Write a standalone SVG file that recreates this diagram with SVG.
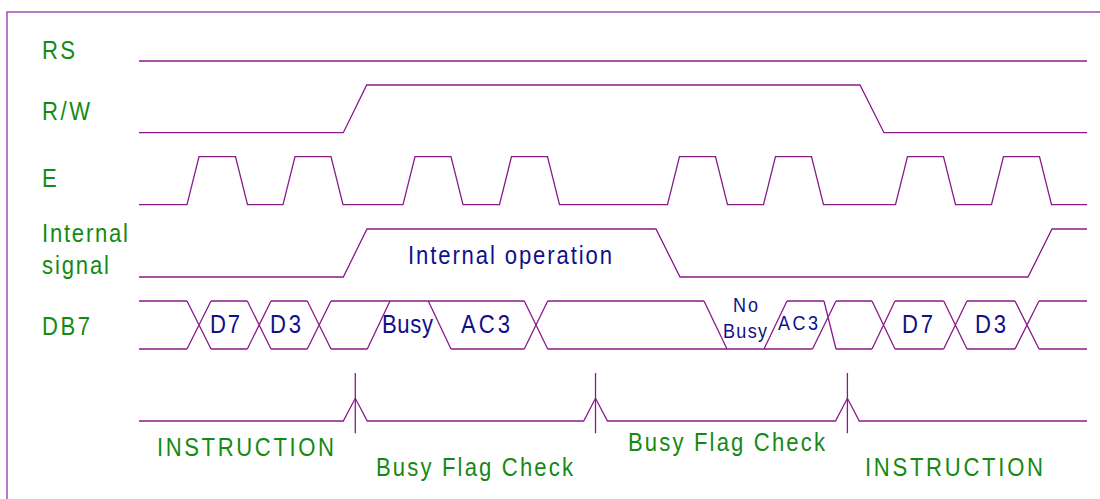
<svg xmlns="http://www.w3.org/2000/svg" width="1100" height="499" viewBox="0 0 1100 499">
  <style>
    .sig { fill: none; stroke: #8a1a8a; stroke-width: 1.3; stroke-linejoin: miter; }
    .frame { fill: none; stroke: #a858b8; stroke-width: 1.6; }
    .lbl { font-family: "Liberation Sans", Arial, sans-serif; font-size: 26px; fill: #148a14; }
    .dat { font-family: "Liberation Sans", Arial, sans-serif; font-size: 26px; fill: #10108a; }
    .dats { font-family: "Liberation Sans", Arial, sans-serif; font-size: 20px; fill: #10108a; }
  </style>
  <rect x="0" y="0" width="1100" height="499" fill="#ffffff"/>
  <rect class="frame" x="7" y="12" width="1110" height="510"/>

  <g id="labels">
    <text class="lbl" transform="translate(42,59) scale(0.85,1)" textLength="38.8">RS</text>
    <text class="lbl" transform="translate(42,120) scale(0.85,1)" textLength="56.5">R/W</text>
    <text class="lbl" transform="translate(42,187) scale(0.85,1)">E</text>
    <text class="lbl" transform="translate(42,242) scale(0.85,1)" textLength="101.2">Internal</text>
    <text class="lbl" transform="translate(42,274) scale(0.85,1)" textLength="78.8">signal</text>
    <text class="lbl" transform="translate(42,335) scale(0.85,1)" textLength="56.5">DB7</text>
  </g>

  <g id="rs">
    <path class="sig" d="M139,61 H1087"/>
  </g>

  <g id="rw">
    <path class="sig" d="M139,132.7 H343.3 L366.7,85 H860 L884,132.7 H1087"/>
  </g>

  <g id="e">
    <path class="sig" d="M139,204.7 H187 L199,156.7 H235.5 L247.5,204.7 H283 L295,156.7 H331 L343,204.7 H403 L415,156.7 H451 L463,204.7 H499.5 L511.5,156.7 H547.5 L559.5,204.7 H667.5 L679.5,156.7 H715.5 L727.5,204.7 H763.5 L775.5,156.7 H811.5 L823.5,204.7 H895.5 L907.5,156.7 H943.5 L955.5,204.7 H991.5 L1003.5,156.7 H1039.5 L1051.5,204.7 H1087"/>
  </g>

  <g id="internal">
    <path class="sig" d="M139,277 H343.3 L367,229 H656 L680,277 H1028 L1052,229 H1087"/>
    <text class="dat" transform="translate(408,264) scale(0.85,1)" textLength="240">Internal operation</text>
  </g>

  <g id="db7">
    <path class="sig" d="M139,301 H187 M211,301 H247.3 M271,301 H307.3 M331,301 H524.3 M547.7,301 H704 M787,301 H824 M836,301 H872 M895,301 H943.7 M967,301 H1015 M1039,301 H1087"/>
    <path class="sig" d="M139,349 H187 M211,349 H247.3 M271,349 H307.3 M331,349 H367.3 M451,349 H524.3 M547.7,349 H812.5 M836,349 H872 M895,349 H943.7 M967,349 H1015 M1039,349 H1087"/>
    <path class="sig" d="M187,301 L211,349 M187,349 L211,301 M247.3,301 L271,349 M247.3,349 L271,301 M307.3,301 L331,349 M307.3,349 L331,301 M367.3,349 L390,301 M428.3,301 L451,349 M524.3,301 L547.7,349 M524.3,349 L547.7,301 M704,301 L727,349 M764,349 L787,301 M824,301 L836,349 M812.5,349 L836,301 M872,301 L895,349 M872,349 L895,301 M943.7,301 L967,349 M943.7,349 L967,301 M1015,301 L1039,349 M1015,349 L1039,301"/>
    <text class="dat" transform="translate(210,333) scale(0.85,1)" textLength="35.3">D7</text>
    <text class="dat" transform="translate(270,333) scale(0.85,1)" textLength="36.5">D3</text>
    <text class="dat" transform="translate(382,333) scale(0.85,1)" textLength="60">Busy</text>
    <text class="dat" transform="translate(461,333) scale(0.85,1)" textLength="57.6">AC3</text>
    <text class="dats" transform="translate(733,312) scale(0.9,1)" textLength="27.8">No</text>
    <text class="dats" transform="translate(723,338) scale(0.9,1)" textLength="48.9">Busy</text>
    <text class="dats" transform="translate(778,330) scale(0.9,1)" textLength="44.4">AC3</text>
    <text class="dat" transform="translate(902,333) scale(0.85,1)" textLength="36.5">D7</text>
    <text class="dat" transform="translate(975,333) scale(0.85,1)" textLength="36.5">D3</text>
  </g>

  <g id="connectors">
    <path class="sig" d="M139,421 H343.3 L355.3,398.3 L367.3,421 H583.7 L595.5,398.3 L607.5,421 H835.5 L847.4,398.3 L859.3,421 H1087"/>
    <path class="sig" d="M355.3,373 V433.3 M595.5,373 V433.3 M847.4,373 V433.3"/>
  </g>

  <g id="phases">
    <text class="lbl" transform="translate(157,456) scale(0.85,1)" textLength="208.2">INSTRUCTION</text>
    <text class="lbl" transform="translate(376,476) scale(0.85,1)" textLength="231.8">Busy Flag Check</text>
    <text class="lbl" transform="translate(628,451) scale(0.85,1)" textLength="231.8">Busy Flag Check</text>
    <text class="lbl" transform="translate(865,476) scale(0.85,1)" textLength="209.4">INSTRUCTION</text>
  </g>
</svg>
